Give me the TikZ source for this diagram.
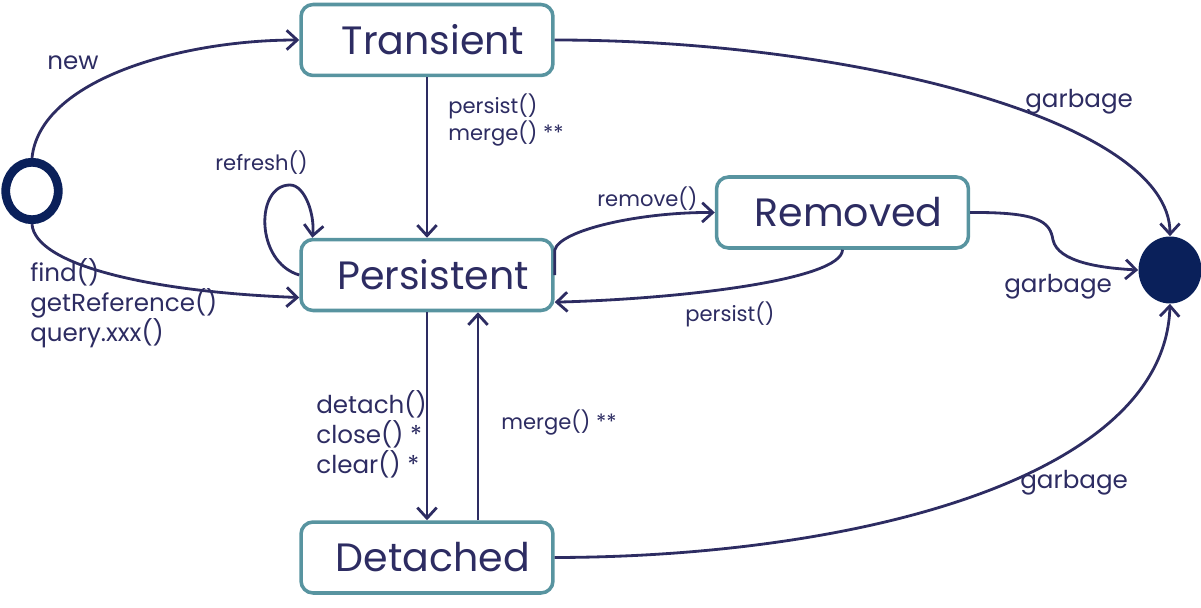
\documentclass[tikz,border=0pt]{standalone}
\usepackage{fontspec}
\setmainfont{Poppins}
\usetikzlibrary{arrows.meta,shapes.geometric,calc}
\definecolor{linec}{RGB}{45,44,98}
\definecolor{boxc}{RGB}{88,148,160}
\definecolor{dotc}{RGB}{10,32,90}
\begin{document}
\begin{tikzpicture}[x=0.02cm,y=-0.02cm,
  state/.style={draw=boxc,line width=2pt,rounded corners=0.24cm,fill=white,
    minimum width=5.04cm,minimum height=1.42cm,inner sep=0pt,
    font=\fontsize{22.5}{27}\selectfont,text=linec},
  tr/.style={draw=linec,line width=1.6pt,
    -{Straight Barb[length=6pt,width=11pt,line width=1.6pt]}},
  lbl/.style={text=linec,font=\fontsize{14}{17}\selectfont,inner sep=0pt,align=left},
  slbl/.style={text=linec,font=\fontsize{12}{15.3}\selectfont,inner sep=0pt,align=left}]
\useasboundingbox (0,0) rectangle (1201,608);

% states
\node[state] (T) at (427,40) {\hspace{0.24cm}Transient};
\node[state] (P) at (427,275) {\hspace{0.24cm}Persistent};
\node[state] (R) at (842.5,212.5) {\hspace{0.24cm}Removed};
\node[state] (D) at (427,557.5) {\hspace{0.24cm}Detached};
\node[ellipse,draw=dotc,line width=5pt,minimum width=1.05cm,minimum height=1.15cm,inner sep=0pt] (I) at (32,191) {};
\node[ellipse,fill=dotc,minimum width=1.26cm,minimum height=1.34cm,inner sep=0pt] (F) at (1170,270) {};

% transitions
\draw[tr] (I.north) .. controls (40,80) and (180,40) .. (T.west);
\draw[tr] (I.south) .. controls (35,265) and (150,292) .. (P.190);
\draw[tr] (T.south) -- (P.north);
\draw[tr] (P.west) .. controls (255,262) and (255,185) .. (290,185) .. controls (305,185) and (315,215) .. (P.162);
\draw[tr] (P.east) -- ++(0,-25) .. controls +(5,-20) and (640,212) .. (R.west);
\draw[tr] (R.south) .. controls (842,280) and (680,299) .. (P.348);
\draw[tr] (T.east) .. controls (850,40) and (1170,120) .. (F.north);
\draw[tr] (R.east) .. controls (1040,212) and (1050,222) .. (1053,240) .. controls (1058,262) and (1100,268) .. (F.west);
\draw[tr] (D.east) .. controls (850,557) and (1165,480) .. (F.south);
\draw[tr] (P.south) -- (D.north);
\draw[tr] ($(D.north)+(51,0)$) -- ($(P.south)+(51,0)$);

% labels
\node[lbl] (lnew) at (73,63) {new};
\node[lbl,anchor=west] (lfind) at (30,303) {find()\\getReference()\\query.xxx()};
\node[slbl,anchor=west] (lpm) at (448,120) {persist()\\merge() **};
\node[slbl,anchor=west] (lref) at (215,163) {refresh()};
\node[slbl,anchor=west] (lrem) at (597,199) {remove()};
\node[slbl,anchor=west] (lper) at (685,314) {persist()};
\node[lbl,anchor=west] (g1) at (1025,102) {garbage};
\node[lbl,anchor=west] (g2) at (1004,287) {garbage};
\node[lbl,anchor=west] (g3) at (1020,483) {garbage};
\node[lbl,anchor=west] (ldet) at (316,434) {detach()\\close() *\\clear() *};
\node[slbl,anchor=west] (lmer) at (501,422) {merge() **};
\end{tikzpicture}
\end{document}
